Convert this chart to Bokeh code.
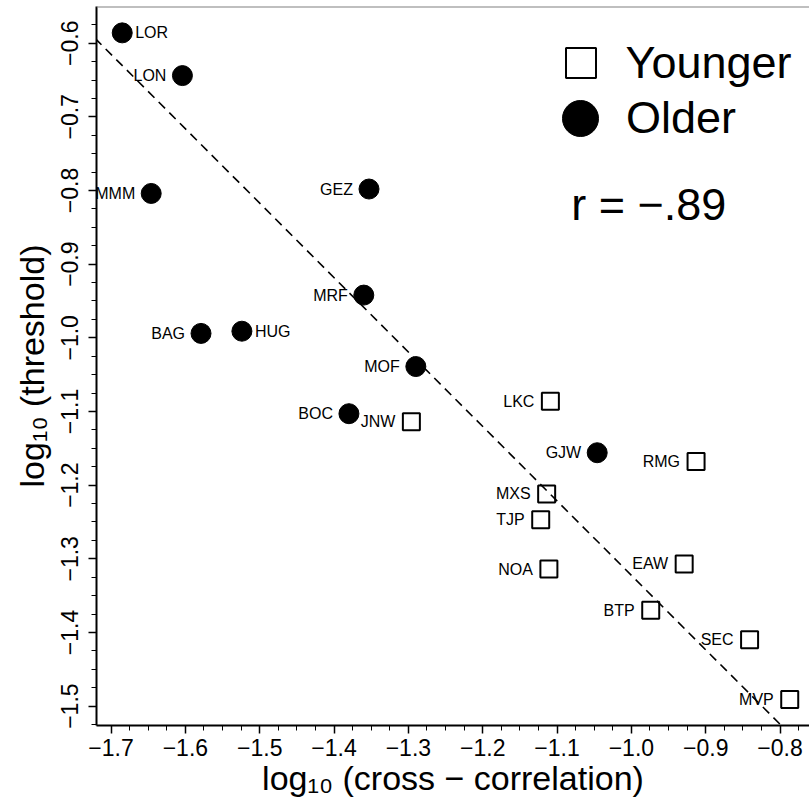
import numpy as np
from bokeh.plotting import figure
from bokeh.models import (ColumnDataSource, Range1d, FixedTicker, CustomJSTickFormatter,
                          Slope, Span, Label, Legend, LegendItem)
from bokeh.embed import file_html
from bokeh.resources import INLINE
from bokeh.core.properties import value

# ---------------- data ----------------
older_names = ["LOR", "LON", "MMM", "GEZ", "MRF", "BAG", "HUG", "MOF", "BOC", "GJW"]
older_x = [-1.685, -1.604, -1.646, -1.353, -1.360, -1.579, -1.524, -1.290, -1.380, -1.046]
older_y = [-0.586, -0.644, -0.804, -0.798, -0.942, -0.994, -0.991, -1.039, -1.103, -1.156]

younger_names = ["JNW", "LKC", "RMG", "MXS", "TJP", "NOA", "EAW", "BTP", "SEC", "MVP"]
younger_x = [-1.296, -1.109, -0.913, -1.114, -1.122, -1.111, -0.929, -0.974, -0.841, -0.787]
younger_y = [-1.114, -1.086, -1.168, -1.212, -1.247, -1.314, -1.307, -1.370, -1.410, -1.491]

fit_slope = -1.0105
fit_intercept = -2.333

legend_labels = ["Younger", "Older"]
r_text = "r = \u2212.89"
x_title = "log\u2081\u2080 (cross \u2212 correlation)"
y_title = "log\u2081\u2080 (threshold)"

x_ticks = [-1.7, -1.6, -1.5, -1.4, -1.3, -1.2, -1.1, -1.0, -0.9, -0.8]
y_ticks = [-0.6, -0.7, -0.8, -0.9, -1.0, -1.1, -1.2, -1.3, -1.4, -1.5]

right_side = {"LOR", "HUG"}   # names whose label sits right of the point

# ---------------- layout ----------------
FONT = "Liberation Sans"
W, H = 809, 804
FL, FT, FB = 96, 6, 725          # frame left / top / bottom in canvas px
X0, X1 = -1.7196, -0.7604
Y0, Y1 = -1.5263, -0.5502

p = figure(width=W, height=H, x_range=Range1d(X0, X1), y_range=Range1d(Y0, Y1),
           output_backend="svg", toolbar_location=None,
           min_border_left=FL, min_border_right=0, min_border_top=FT,
           min_border_bottom=H - FB)
p.grid.visible = False
p.outline_line_color = None
p.background_fill_color = "white"
p.border_fill_color = "white"

# top border of the box
p.add_layout(Span(location=Y1, dimension="width", line_color="#808080", line_width=2))

# regression line
p.add_layout(Slope(gradient=fit_slope, y_intercept=fit_intercept, line_color="black",
                   line_width=1.6, line_dash="9 6"))

younger_r = p.scatter(younger_x, younger_y, marker="square", size=17, fill_color=None,
                      line_color="black", line_width=2)
older_r = p.scatter(older_x, older_y, marker="circle", size=20, fill_color="black",
                    line_color="black", line_width=1)


def add_labels(names, xs, ys):
    for side in ("left", "right"):
        sel = [i for i, n in enumerate(names) if (n in right_side) == (side == "left")]
        if not sel:
            continue
        src = ColumnDataSource(dict(x=[xs[i] for i in sel], y=[ys[i] for i in sel],
                                    t=[names[i] for i in sel]))
        p.text(x="x", y="y", text="t", source=src,
               x_offset=13 if side == "left" else -16,
               text_align=side, text_baseline="middle",
               text_font=value(FONT), text_font_size="16px", text_color="black")


add_labels(older_names, older_x, older_y)
add_labels(younger_names, younger_x, younger_y)

# ---------------- axes ----------------
fmt = CustomJSTickFormatter(code="return tick.toFixed(1).replace('-', '\u2212');")
p.xaxis.ticker = FixedTicker(ticks=x_ticks,
                             minor_ticks=[round(v, 3) for v in np.arange(-1.7, -0.76, 0.025)])
p.yaxis.ticker = FixedTicker(ticks=y_ticks,
                             minor_ticks=[round(v, 3) for v in np.arange(-1.525, -0.549, 0.025)])
for ax in (p.xaxis[0], p.yaxis[0]):
    ax.formatter = fmt
    ax.axis_line_color = "black"
    ax.axis_line_width = 2
    ax.major_tick_line_color = "black"
    ax.major_tick_line_width = 1.5
    ax.major_tick_out = 8
    ax.major_tick_in = 0
    ax.minor_tick_line_color = "black"
    ax.minor_tick_line_width = 1
    ax.minor_tick_out = 5
    ax.minor_tick_in = 0
    ax.major_label_text_font = FONT
    ax.major_label_text_font_size = "23px"
    ax.major_label_text_color = "black"
    ax.axis_label_text_font = FONT
    ax.axis_label_text_font_size = "34px"
    ax.axis_label_text_font_style = "normal"
    ax.axis_label_text_color = "black"
p.yaxis.major_label_orientation = "vertical"
p.xaxis.major_label_standoff = 5
p.yaxis.major_label_standoff = 10
p.xaxis.axis_label = x_title
p.yaxis.axis_label = y_title
p.xaxis.axis_label_standoff = 0
p.yaxis.axis_label_standoff = 8

# r annotation (screen units relative to the frame's bottom-left)
p.add_layout(Label(x=570.7 - FL, y=FB - 204.0, x_units="screen", y_units="screen",
                   text=r_text, text_font=FONT, text_font_size="45px", text_color="black",
                   text_align="left", text_baseline="alphabetic"))

# ---------------- legend ----------------
common = dict(padding=0, margin=0, spacing=0, border_line_color=None,
              background_fill_alpha=0, label_text_font=FONT,
              label_text_font_size="45px", label_text_color="black")
leg1 = Legend(items=[LegendItem(label=legend_labels[0], renderers=[younger_r])],
              location=(446.5, 625), glyph_width=75, glyph_height=75, label_standoff=8,
              **common)
leg2 = Legend(items=[LegendItem(label=legend_labels[1], renderers=[older_r])],
              location=(439, 562), glyph_width=90, glyph_height=90, label_standoff=1,
              **common)
p.add_layout(leg1)
p.add_layout(leg2)

open("out.html", "w").write(file_html(p, INLINE))
